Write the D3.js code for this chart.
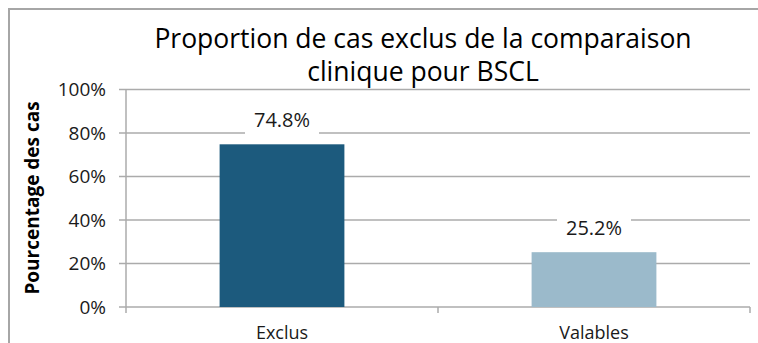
<!DOCTYPE html>
<html>
<head>
<meta charset="utf-8">
<script src="https://cdn.jsdelivr.net/npm/d3@7"></script>
<style>
  html, body { margin: 0; padding: 0; background: #fff; }
  svg { display: block; font-family: "Open Sans", "Noto Sans", sans-serif; }
</style>
</head>
<body>
<svg id="chart" width="758" height="343"></svg>
<script>
// Share of cases by status in the BSCL clinical comparison
const categories = ["Exclus", "Valables"];
const values = [74.8, 25.2];
const barColors = ["#1c5a7d", "#9bbacb"];
const yTicks = [0, 20, 40, 60, 80, 100];
const titleLines = ["Proportion de cas exclus de la comparaison", "clinique pour BSCL"];
const yTitle = "Pourcentage des cas";

const svg = d3.select("#chart");
const plot = { left: 126, right: 750, top: 89.5, bottom: 307 };

// Outer frame (top and left edges visible)
svg.append("path")
  .attr("d", "M9,343 V9 H758")
  .attr("fill", "none")
  .attr("stroke", "#a6a6a6")
  .attr("stroke-width", 2);

const x = d3.scaleBand()
  .domain(categories)
  .range([plot.left, plot.right])
  .paddingInner(0.6)
  .paddingOuter(0.3);

const y = d3.scaleLinear()
  .domain([0, 100])
  .range([plot.bottom, plot.top]);

// Horizontal gridlines
svg.append("g")
  .selectAll("line")
  .data(yTicks)
  .join("line")
  .attr("x1", plot.left - 7)
  .attr("x2", plot.right)
  .attr("y1", d => y(d))
  .attr("y2", d => y(d))
  .attr("stroke", "#ababab")
  .attr("stroke-width", 1.5);

// Y axis labels
svg.append("g")
  .selectAll("text")
  .data(yTicks)
  .join("text")
  .attr("x", 106)
  .attr("y", d => y(d))
  .attr("dy", "0.36em")
  .attr("text-anchor", "end")
  .attr("font-size", 19)
  .attr("fill", "#1a1a1a")
  .text(d => d + "%");

// Vertical axis line
svg.append("line")
  .attr("x1", plot.left).attr("x2", plot.left)
  .attr("y1", plot.top).attr("y2", plot.bottom + 6)
  .attr("stroke", "#ababab")
  .attr("stroke-width", 1.5);

// Category separator ticks on the x axis
const sepX = [plot.left + (plot.right - plot.left) / 2, plot.right];
svg.append("g")
  .selectAll("line")
  .data(sepX)
  .join("line")
  .attr("x1", d => d).attr("x2", d => d)
  .attr("y1", plot.bottom).attr("y2", plot.bottom + 6)
  .attr("stroke", "#ababab")
  .attr("stroke-width", 1.5);

// Bars
svg.append("g")
  .selectAll("rect")
  .data(values)
  .join("rect")
  .attr("x", (d, i) => x(categories[i]))
  .attr("width", x.bandwidth())
  .attr("y", d => y(d))
  .attr("height", d => y(0) - y(d))
  .attr("fill", (d, i) => barColors[i]);

// Value labels with a white backing box
const labels = svg.append("g")
  .selectAll("g")
  .data(values)
  .join("g")
  .attr("transform", (d, i) => `translate(${x(categories[i]) + x.bandwidth() / 2},${y(d) - 17})`);
labels.append("rect")
  .attr("x", -37).attr("y", -17)
  .attr("width", 74).attr("height", 30)
  .attr("fill", "#fff");
labels.append("text")
  .attr("text-anchor", "middle")
  .attr("font-size", 20)
  .attr("fill", "#1a1a1a")
  .text(d => d.toFixed(1) + "%");

// Category labels
svg.append("g")
  .selectAll("text")
  .data(categories)
  .join("text")
  .attr("x", d => x(d) + x.bandwidth() / 2)
  .attr("y", 339)
  .attr("text-anchor", "middle")
  .attr("font-size", 18)
  .attr("fill", "#1a1a1a")
  .text(d => d);

// Y axis title
svg.append("text")
  .attr("transform", "translate(39,198) rotate(-90)")
  .attr("text-anchor", "middle")
  .attr("font-size", 19)
  .attr("font-weight", "bold")
  .attr("fill", "#000")
  .text(yTitle);

// Chart title
svg.append("g")
  .selectAll("text")
  .data(titleLines)
  .join("text")
  .attr("x", 423)
  .attr("y", (d, i) => 48 + i * 33)
  .attr("text-anchor", "middle")
  .attr("font-size", 26.5)
  .attr("fill", "#000")
  .text(d => d);
</script>
</body>
</html>
